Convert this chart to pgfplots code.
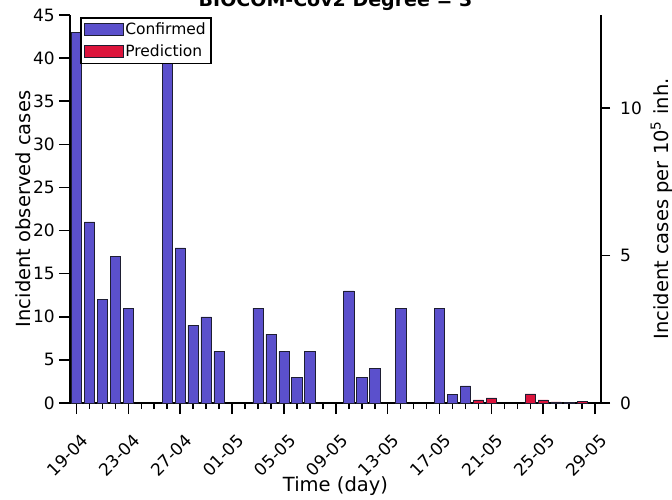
\documentclass[border=0pt]{standalone}
\usepackage{pgfplots}
\pgfplotsset{compat=1.18}
\usepackage{fontspec}
\setmainfont{DejaVu Sans}
\definecolor{cblue}{RGB}{91,80,204}
\definecolor{cred}{RGB}{220,20,60}
\definecolor{edgec}{RGB}{30,30,50}

\pgfplotstableread{
day val
0 43
1 21
2 12
3 17
4 11
7 41
8 18
9 9
10 10
11 6
14 11
15 8
16 6
17 3
18 6
21 13
22 3
23 4
25 11
28 11
29 1
30 2
}\confirmed
\pgfplotstableread{
day val
31 0.35
32 0.6
35 1.05
36 0.35
37 0.12
38 0.1
39 0.2
}\prediction

\begin{document}
\begin{tikzpicture}
\begin{axis}[
  name=main,
  at={(0,0)}, anchor=south west,
  scale only axis, width=531bp, height=388bp,
  xmin=-0.5, xmax=40.45, ymin=0, ymax=45,
  axis x line*=bottom, axis y line*=left,
  axis line style={line width=1.6bp, -},
  tick align=outside,
  xtick={0,4,...,40},
  xticklabels={19-04,23-04,27-04,01-05,05-05,09-05,13-05,17-05,21-05,25-05,29-05},
  minor xtick={0,...,40},
  ytick={0,5,...,45},
  major tick length=11bp, minor tick length=6bp,
  every tick/.style={black, line width=1.6bp},
  tick label style={font=\fontsize{17bp}{20bp}\selectfont},
  /pgf/number format/assume math mode=true,
  xticklabel style={xshift=4bp, yshift=-19bp, rotate=45, anchor=north east, inner sep=0pt},
  yticklabel style={xshift=-4bp, anchor=east, inner sep=0pt},
  xlabel={Time (day)},
  xlabel style={font=\fontsize{19.5bp}{23bp}\selectfont, at={([yshift=-88bp]axis description cs:0.5,0)}, anchor=base},
  ylabel={Incident observed cases},
  ylabel style={font=\fontsize{19.5bp}{23bp}\selectfont, at={([xshift=-39bp]axis description cs:0,0.5)}, anchor=base},
  legend cell align=left,
  legend style={at={([xshift=10bp,yshift=-2bp]rel axis cs:0,1)}, anchor=north west,
    draw=black, line width=1.6bp, fill=white, inner sep=3bp, row sep=5bp,
    font=\fontsize{15.5bp}{18bp}\selectfont,
    /tikz/every even column/.append style={column sep=4bp}},
]
\addlegendimage{legend image code/.code={\draw[fill=cblue, draw=edgec, line width=0.5bp] (0bp,-6bp) rectangle (39bp,6bp);}}
\addlegendentry{Confirmed}
\addlegendimage{legend image code/.code={\draw[fill=cred, draw=edgec, line width=0.5bp] (0bp,-6bp) rectangle (39bp,6bp);}}
\addlegendentry{Prediction}
\addplot[ybar, bar width=0.8, bar shift=0pt, fill=cblue, draw=edgec, line width=0.5bp, forget plot] table[x=day, y=val] {\confirmed};
\addplot[ybar, bar width=0.8, bar shift=0pt, fill=cred, draw=edgec, line width=0.5bp, forget plot] table[x=day, y=val] {\prediction};
\end{axis}
\begin{axis}[
  at={(0,0)}, anchor=south west,
  scale only axis, width=531bp, height=388bp,
  xmin=-0.5, xmax=40.45, ymin=0, ymax=13.15,
  axis y line*=right, axis x line=none,
  axis line style={line width=1.6bp, -},
  tick align=outside,
  ytick={0,5,10},
  major tick length=9bp,
  every tick/.style={black, line width=1.6bp},
  tick label style={font=\fontsize{17bp}{20bp}\selectfont},
  /pgf/number format/assume math mode=true,
  yticklabel style={xshift=10bp, anchor=west, inner sep=0pt},
  ylabel={Incident cases per 10\textsuperscript{5} inh.},
  ylabel style={font=\fontsize{19.5bp}{23bp}\selectfont, at={([xshift=67bp]axis description cs:1,0.5)}, anchor=base},
]
\end{axis}
\node[anchor=base, inner sep=0pt, font=\fontsize{19bp}{23bp}\selectfont\bfseries] at ([yshift=8.5bp]main.north) {BIOCOM-Cov2 Degree = 3};
\pgfresetboundingbox
\useasboundingbox (-70bp,-97bp) rectangle (602bp,403bp);
\end{tikzpicture}
\end{document}
